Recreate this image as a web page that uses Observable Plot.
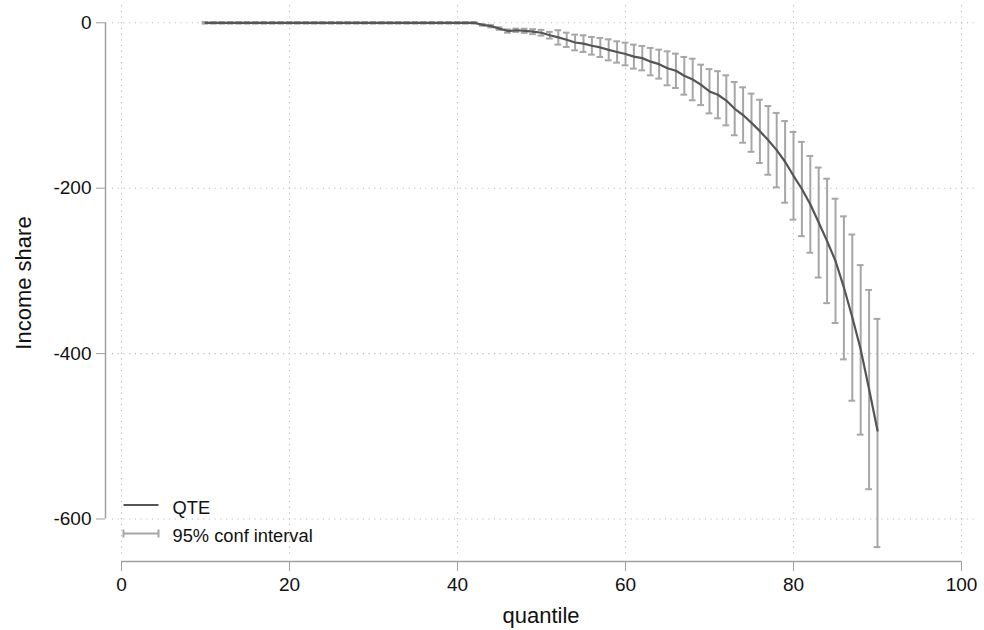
<!DOCTYPE html>
<html>
<head>
<meta charset="utf-8">
<script src="https://cdn.jsdelivr.net/npm/d3@7"></script>
<script src="https://cdn.jsdelivr.net/npm/@observablehq/plot@0.6"></script>
<style>
  html, body { margin: 0; padding: 0; background: #fff; }
  #chart { width: 984px; height: 630px; }
</style>
</head>
<body>
<div id="chart"></div>
<script>
// Quantile treatment effects on income share, with 95% confidence intervals
const quantile = [
  10, 11, 12, 13, 14, 15, 16, 17, 18, 19,
  20, 21, 22, 23, 24, 25, 26, 27, 28, 29,
  30, 31, 32, 33, 34, 35, 36, 37, 38, 39,
  40, 41, 42, 43, 44, 45, 46, 47, 48, 49,
  50, 51, 52, 53, 54, 55, 56, 57, 58, 59,
  60, 61, 62, 63, 64, 65, 66, 67, 68, 69,
  70, 71, 72, 73, 74, 75, 76, 77, 78, 79,
  80, 81, 82, 83, 84, 85, 86, 87, 88, 89,
  90
];
const qte = [
  0, 0, 0, 0, 0, 0, 0, 0, 0, 0,
  0, 0, 0, 0, 0, 0, 0, 0, 0, 0,
  0, 0, 0, 0, 0, 0, 0, 0, 0, 0,
  0, 0, 0, -2.5, -4, -7, -10, -9, -9.7, -10.7,
  -12, -15, -17.7, -20.5, -23.8, -25.2, -27.8, -29.8, -32.7, -35.3,
  -37.7, -40.9, -42.7, -47, -50, -55, -58, -64, -68.6, -75,
  -83, -87, -94, -104, -111.5, -121, -131, -142, -154, -168,
  -185, -201, -219.5, -241.5, -264, -288, -320, -356, -395, -443,
  -493
];
const ciLower = [
  -1, -1, -1, -1, -1, -1, -1, -1, -1, -1,
  -1, -1, -1, -1, -1, -1, -1, -1, -1, -1,
  -1, -1, -1, -1, -1, -1, -1, -1, -1, -1,
  -1, -1, -1, -3.5, -5.5, -8.5, -12, -11, -12.2, -13.7,
  -15.5, -19, -26.4, -29.2, -33.3, -35.3, -38.5, -41.3, -45.4, -48.2,
  -51.4, -55.4, -57.5, -63.5, -67.5, -75.6, -78.8, -86.9, -93.7, -99.5,
  -109.5, -115.5, -124, -136, -145, -156, -169.6, -183.7, -199, -217.5,
  -238, -258, -278, -308, -339, -363, -407, -457, -498, -564,
  -634
];
const ciUpper = [
  1, 1, 1, 1, 1, 1, 1, 1, 1, 1,
  1, 1, 1, 1, 1, 1, 1, 1, 1, 1,
  1, 1, 1, 1, 1, 1, 1, 1, 1, 1,
  1, 1, 1, -1.5, -2.5, -5.5, -8, -7, -7.2, -7.7,
  -8.5, -11, -9, -11.9, -14.3, -15.1, -17.1, -18.3, -20, -22.4,
  -24, -26.4, -28, -30.4, -32.5, -34.5, -37.3, -41.3, -43.4, -50.6,
  -56, -58.5, -63.5, -71.6, -78, -85.6, -93, -100.6, -109, -118.8,
  -132, -144, -161, -175, -188.5, -212.7, -234, -256, -293, -323,
  -358
];

const xTicks = [0, 20, 40, 60, 80, 100];
const yTicks = [0, -200, -400, -600];

const xTitle = "quantile";
const yTitle = "Income share";
const legendLabels = ["QTE", "95% conf interval"];

const rows = quantile.map((q, i) => ({q, qte: qte[i], lo: ciLower[i], hi: ciUpper[i]}));

const lineColor = "#555555";
const ciColor = "#a6a6a6";
const axisColor = "#a0a0a0";
const textColor = "#111";
const fontFamily = "'Liberation Sans', Arial, sans-serif";
const gridStyle = {stroke: "#bcbcbc", strokeOpacity: 1, strokeWidth: 1.1, strokeDasharray: "1.2,4.5"};
const capHalf = 0.4;

const W = 984, H = 630;

const chart = Plot.plot({
  width: W,
  height: H,
  marginLeft: 105,
  marginRight: 9,
  marginTop: 5,
  marginBottom: 69,
  style: {fontFamily, fontSize: "19px", color: textColor, background: "#fff"},
  x: {domain: [0, 100], range: [121, 961]},
  y: {domain: [-600, 0], range: [518.5, 22.3]},
  marks: [
    Plot.gridX(xTicks, {...gridStyle, insetBottom: 5}),
    Plot.gridY(yTicks, {...gridStyle, insetLeft: 7}),
    // confidence interval bars with caps
    Plot.ruleX(rows, {x: "q", y1: "lo", y2: "hi", stroke: ciColor, strokeWidth: 2}),
    Plot.ruleY(rows, {y: "lo", x1: d => d.q - capHalf, x2: d => d.q + capHalf, stroke: ciColor, strokeWidth: 2}),
    Plot.ruleY(rows, {y: "hi", x1: d => d.q - capHalf, x2: d => d.q + capHalf, stroke: ciColor, strokeWidth: 2}),
    // point estimates
    Plot.line(rows, {x: "q", y: "qte", stroke: lineColor, strokeWidth: 2.2}),
    // axes
    Plot.axisX(xTicks, {anchor: "bottom", tickSize: 10, tickPadding: 6, fontSize: 19, stroke: axisColor, fill: textColor, label: null, tickFormat: d => String(d)}),
    Plot.axisY(yTicks, {anchor: "left", tickSize: 9, tickPadding: 5, fontSize: 19, stroke: axisColor, fill: textColor, label: null, tickFormat: d => String(d)}),
    // axis lines spanning the tick range only
    Plot.ruleY([d3.min(yTicks)], {x1: d3.min(xTicks), x2: d3.max(xTicks), dy: 42.5, stroke: axisColor, strokeWidth: 1.5}),
    Plot.ruleX([d3.min(xTicks)], {y1: d3.min(yTicks), y2: d3.max(yTicks), dx: -16, stroke: axisColor, strokeWidth: 1.5})
  ]
});

document.getElementById("chart").appendChild(chart);

const svg = d3.select(chart);
const xs = chart.scale("x");

// axis titles
svg.append("text")
  .attr("x", (xs.apply(0) + xs.apply(100)) / 2)
  .attr("y", 623)
  .attr("text-anchor", "middle")
  .attr("fill", textColor)
  .style("font-family", fontFamily)
  .style("font-size", "22px")
  .text(xTitle);

svg.append("text")
  .attr("transform", `translate(31,283) rotate(-90)`)
  .attr("text-anchor", "middle")
  .attr("fill", textColor)
  .style("font-family", fontFamily)
  .style("font-size", "22px")
  .text(yTitle);

// legend
const lg = svg.append("g").attr("transform", "translate(123.5,0)");
lg.append("line")
  .attr("x1", 0).attr("x2", 35).attr("y1", 505).attr("y2", 505)
  .attr("stroke", lineColor).attr("stroke-width", 2);
lg.append("text")
  .attr("x", 49).attr("y", 513.5)
  .attr("text-anchor", "start")
  .attr("fill", textColor)
  .style("font-family", fontFamily).style("font-size", "18.3px")
  .text(legendLabels[0]);
lg.append("line")
  .attr("x1", 0).attr("x2", 35).attr("y1", 533.5).attr("y2", 533.5)
  .attr("stroke", ciColor).attr("stroke-width", 2);
lg.selectAll("line.cap").data([0, 35]).join("line")
  .attr("class", "cap")
  .attr("x1", d => d).attr("x2", d => d).attr("y1", 529.5).attr("y2", 537.5)
  .attr("stroke", ciColor).attr("stroke-width", 2);
lg.append("text")
  .attr("x", 49).attr("y", 542)
  .attr("text-anchor", "start")
  .attr("fill", textColor)
  .style("font-family", fontFamily).style("font-size", "18.3px")
  .text(legendLabels[1]);
</script>
</body>
</html>
